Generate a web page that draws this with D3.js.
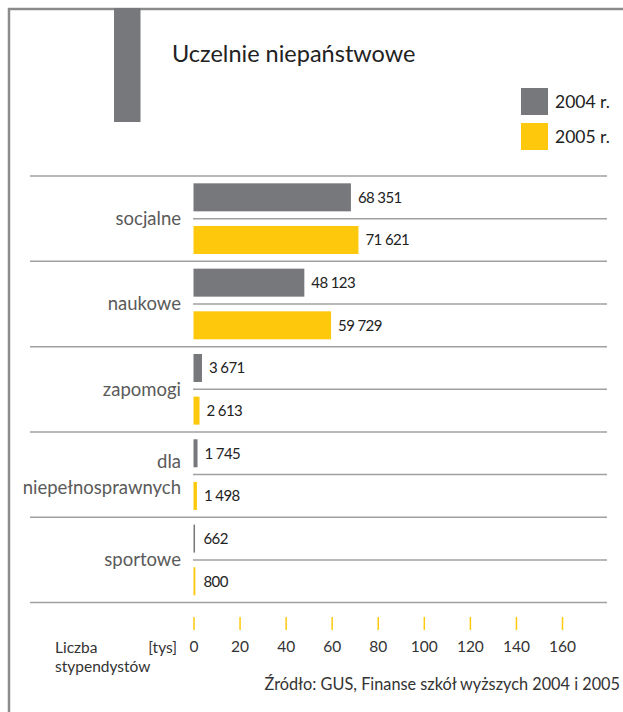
<!DOCTYPE html>
<html>
<head>
<meta charset="utf-8">
<script src="https://cdn.jsdelivr.net/npm/d3@7"></script>
<style>
  html, body { margin: 0; padding: 0; background: #fff; }
  svg { display: block; }
  text { font-family: Lato, "Open Sans", sans-serif; }
</style>
</head>
<body>
<svg id="chart" width="623" height="712"></svg>
<script>
const title = "Uczelnie niepaństwowe";
const categories = ["socjalne", "naukowe", "zapomogi", "dla\nniepełnosprawnych", "sportowe"];
const seriesNames = ["2004 r.", "2005 r."];
const values2004 = [68351, 48123, 3671, 1745, 662];
const values2005 = [71621, 59729, 2613, 1498, 800];
const tickValues = [0, 20, 40, 60, 80, 100, 120, 140, 160];
const axisLabel1 = "Liczba";
const axisLabel2 = "stypendystów";
const axisUnit = "[tys]";
const source = "Źródło: GUS, Finanse szkół wyższych 2004 i 2005";

const colors = ["#77787b", "#fec90d"];
const lineColor = "#a0a0a0";

const svg = d3.select("#chart");
const fmt = v => d3.format(",")(v).replace(/,/g, " ");

// frame
svg.append("line").attr("x1", 8).attr("x2", 623).attr("y1", 9).attr("y2", 9)
  .attr("stroke", "#8c8c8c").attr("stroke-width", 2.5);
svg.append("line").attr("x1", 9).attr("x2", 9).attr("y1", 8).attr("y2", 712)
  .attr("stroke", "#8c8c8c").attr("stroke-width", 2.5);
// decorative bar
svg.append("rect").attr("x", 114).attr("y", 8).attr("width", 26.5).attr("height", 114)
  .attr("fill", "#77787b");

// title
svg.append("text").attr("x", 172).attr("y", 62).attr("font-size", 23.5)
  .attr("fill", "#222").text(title);

// legend
seriesNames.forEach((s, i) => {
  const y0 = 88 + i * 35;
  svg.append("rect").attr("x", 521).attr("y", y0).attr("width", 27).attr("height", 27)
    .attr("fill", colors[i]);
  svg.append("text").attr("x", 555).attr("y", y0 + 13.5).attr("dy", "0.35em")
    .attr("font-size", 17.5).attr("fill", "#222").text(s);
});

// scales
const x = d3.scaleLinear().domain([0, 160]).range([193.5, 562]);
const y = d3.scaleBand().domain(categories).range([176, 602.6]);
const ySub = d3.scaleBand().domain(seriesNames).range([0, y.bandwidth()]);
const barH = 28;

// separator lines
const seps = categories.map(c => y(c)).concat([y(categories[categories.length - 1]) + y.bandwidth()]);
svg.selectAll(".sep").data(seps).join("line")
  .attr("x1", 30).attr("x2", 607)
  .attr("y1", d => d).attr("y2", d => d)
  .attr("stroke", lineColor).attr("stroke-width", 1.5);
// inner lines
svg.selectAll(".inner").data(categories).join("line")
  .attr("x1", 193).attr("x2", 607)
  .attr("y1", c => y(c) + y.bandwidth() / 2).attr("y2", c => y(c) + y.bandwidth() / 2)
  .attr("stroke", lineColor).attr("stroke-width", 1.5);

// category labels
categories.forEach(c => {
  const lines = c.split("\n");
  const mid = y(c) + y.bandwidth() / 2;
  const lh = 26;
  const t = svg.append("text").attr("text-anchor", "end").attr("font-size", 18.5)
    .attr("fill", "#5a5a5a");
  lines.forEach((ln, i) => {
    t.append("tspan").attr("x", 181)
      .attr("y", mid + (i - (lines.length - 1) / 2) * lh)
      .attr("dy", "0.35em").text(ln);
  });
});

// bars
const data = [];
categories.forEach((c, i) => {
  data.push({ c, s: seriesNames[0], v: values2004[i], col: colors[0] });
  data.push({ c, s: seriesNames[1], v: values2005[i], col: colors[1] });
});
svg.selectAll(".bar").data(data).join("rect")
  .attr("x", x(0))
  .attr("y", d => y(d.c) + ySub(d.s) + (ySub.bandwidth() - barH) / 2)
  .attr("width", d => Math.max(1.5, x(d.v / 1000) - x(0)))
  .attr("height", barH)
  .attr("fill", d => d.col);
svg.selectAll(".val").data(data).join("text")
  .attr("x", d => Math.max(x(0) + 3, x(d.v / 1000)) + 7)
  .attr("y", d => y(d.c) + ySub(d.s) + ySub.bandwidth() / 2)
  .attr("dy", "0.35em")
  .attr("font-size", 15)
  .attr("letter-spacing", -0.6)
  .attr("fill", "#222")
  .text(d => fmt(d.v));

// axis
const axisG = svg.append("g").attr("transform", "translate(0,617)")
  .call(d3.axisBottom(x).tickValues(tickValues).tickSize(13).tickSizeOuter(0));
axisG.select(".domain").remove();
axisG.selectAll(".tick line").attr("stroke", "#fec90d").attr("stroke-width", 1.5);
axisG.selectAll(".tick text").attr("y", 30).attr("dy", "0.35em")
  .attr("font-size", 15.5).attr("fill", "#333")
  .attr("font-family", "Lato, 'Open Sans', sans-serif");

svg.append("text").attr("x", 55).attr("y", 653).attr("font-size", 15.5).attr("fill", "#333").text(axisLabel1);
svg.append("text").attr("x", 55).attr("y", 672).attr("font-size", 15.5).attr("fill", "#333").text(axisLabel2);
svg.append("text").attr("x", 177).attr("y", 653).attr("text-anchor", "end").attr("font-size", 15.5).attr("fill", "#333").text(axisUnit);

svg.append("text").attr("x", 620).attr("y", 690).attr("text-anchor", "end")
  .attr("font-size", 16.3).attr("fill", "#333").text(source);
</script>
</body>
</html>
